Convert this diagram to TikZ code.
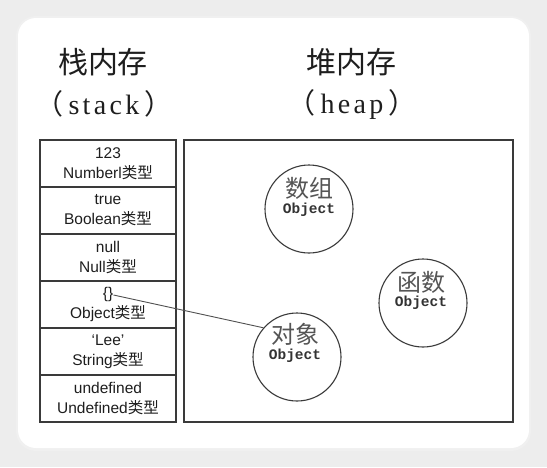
\documentclass[tikz,border=0pt]{standalone}
\usepackage{fontspec}
\setmainfont{Liberation Sans}
\newfontfamily\cjk{Noto Sans CJK SC}
\newfontfamily\serifx[LetterSpace=12]{Liberation Serif}
\newfontfamily\monox{Liberation Mono}
\newcommand{\tpx}{{\cjk 类型}}
\newcommand{\lpx}{{\cjk （}\kern5pt}
\newcommand{\rpx}{\kern5pt{\cjk ）}}
\definecolor{bgc}{HTML}{EDEDED}
\definecolor{linec}{HTML}{3A3A3A}
\definecolor{wirec}{HTML}{505050}
\definecolor{textc}{HTML}{1E1E1E}
\definecolor{cjkg}{HTML}{555555}
\definecolor{objc}{HTML}{333333}
\begin{document}
\begin{tikzpicture}[x=1pt,y=-1pt,
  cell/.style={draw=linec, line width=1.1pt, minimum width=136pt, minimum height=47pt,
    inner sep=0pt, align=center, text=textc, font=\fontsize{15.5}{20}\selectfont},
  heapbox/.style={draw=linec, line width=1.1pt, minimum width=329pt, minimum height=282pt, inner sep=0pt},
  heapobj/.style={circle, draw=linec, line width=1.1pt, minimum size=88pt, inner sep=0pt},
  title/.style={font=\cjk\fontsize{30}{32}\selectfont, text=textc, inner sep=0pt},
  subtitle/.style={font=\serifx\fontsize{28}{30}\selectfont, text=textc, inner sep=0pt},
  objname/.style={font=\cjk\fontsize{24}{26}\selectfont, text=cjkg, inner sep=0pt},
  objtype/.style={font=\monox\bfseries\fontsize{14.5}{16}\selectfont, text=objc, inner sep=0pt},
  wire/.style={draw=wirec, line width=0.9pt}]
\useasboundingbox (0,0) rectangle (547,467);
\fill[bgc] (0,0) rectangle (547,467);
\fill[black!6, rounded corners=20pt] (16,16) rectangle (531,451);
\fill[white, rounded corners=18pt] (18,18) rectangle (529,448);

% titles
\node[title] (t1) at (103,62) {栈内存};
\node[subtitle] (s1) at (104,104) {\lpx stack\rpx};
\node[title] (t2) at (351,62) {堆内存};
\node[subtitle] (s2) at (352,104) {\lpx heap\rpx};

% stack
\node[cell] (c1) at (108,163.5) {123\\Numberl\tpx};
\node[cell] (c2) at (108,210.5) {true\\Boolean\tpx};
\node[cell] (c3) at (108,257.5) {null\\Null\tpx};
\node[cell] (c4) at (108,304.5) {\{\}\\Object\tpx};
\node[cell] (c5) at (108,351.5) {‘Lee’\\String\tpx};
\node[cell] (c6) at (108,398.5) {undefined\\Undefined\tpx};

% heap
\node[heapbox] (heap) at (348.5,281) {};
\node[heapobj] (arr) at (309,209) {};
\node[objname] (arrn) at (309,188) {数组};
\node[objtype] (arrt) at (309,210) {Object};
\node[heapobj] (fun) at (423,303) {};
\node[objname] (funn) at (421,282) {函数};
\node[objtype] (funt) at (421,303) {Object};
\node[heapobj] (obj) at (297,357) {};
\node[objname] (objn) at (295,334) {对象};
\node[objtype] (objt) at (295,356) {Object};

% reference
\coordinate (bstart) at (113.5,295);
\draw[wire] (bstart) -- (obj.139);
\end{tikzpicture}
\end{document}
